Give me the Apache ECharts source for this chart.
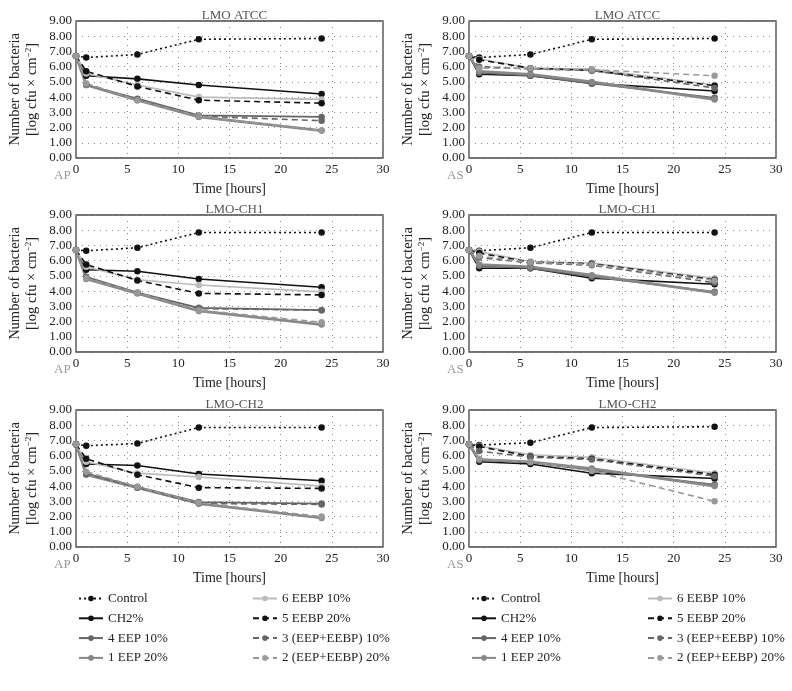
<!DOCTYPE html>
<html><head><meta charset="utf-8">
<script src="https://cdn.jsdelivr.net/npm/echarts@6/dist/echarts.min.js"></script>
<style>html,body{margin:0;padding:0;background:#fff}#c{width:792px;height:691px}</style>
</head><body><div id="c"></div>
<script>
const hours = [0, 1, 6, 12, 24];
const seriesNames = ['Control', 'CH2%', '4 EEP 10%', '1 EEP 20%', '6 EEBP 10%', '5 EEBP 20%', '3 (EEP+EEBP) 10%', '2 (EEP+EEBP) 20%'];
const panelTitles = ['LMO ATCC', 'LMO ATCC', 'LMO-CH1', 'LMO-CH1', 'LMO-CH2', 'LMO-CH2'];
const panelTags = ['AP', 'AS', 'AP', 'AS', 'AP', 'AS'];
const yTicks = [0, 1, 2, 3, 4, 5, 6, 7, 8, 9];
const xTicks = [0, 5, 10, 15, 20, 25, 30];

// rows follow seriesNames order
const AP_ATCC = [
  [6.7, 6.6, 6.8, 7.8, 7.85],
  [6.7, 5.4, 5.2, 4.8, 4.2],
  [6.7, 4.8, 3.9, 2.8, 2.7],
  [6.7, 4.8, 3.8, 2.7, 1.8],
  [6.7, 5.55, 4.8, 4.0, 3.85],
  [6.7, 5.7, 4.7, 3.8, 3.6],
  [6.7, 4.85, 3.85, 2.75, 2.45],
  [6.7, 4.9, 3.8, 2.75, 1.8]
];
const AS_ATCC = [
  [6.7, 6.6, 6.8, 7.8, 7.85],
  [6.7, 5.5, 5.4, 4.9, 4.4],
  [6.7, 5.6, 5.4, 4.9, 3.95],
  [6.7, 5.7, 5.5, 5.0, 3.85],
  [6.7, 6.5, 5.9, 5.85, 4.8],
  [6.7, 6.45, 5.9, 5.75, 4.75],
  [6.7, 6.0, 5.85, 5.75, 4.6],
  [6.7, 5.9, 5.9, 5.8, 5.4]
];
const AP_CH1 = [
  [6.7, 6.65, 6.85, 7.85, 7.85],
  [6.7, 5.4, 5.3, 4.8, 4.25],
  [6.7, 4.95, 3.9, 2.9, 2.75],
  [6.7, 4.8, 3.85, 2.7, 1.8],
  [6.7, 5.6, 4.75, 4.4, 3.95],
  [6.7, 5.75, 4.7, 3.85, 3.75],
  [6.7, 4.9, 3.9, 2.85, 2.75],
  [6.7, 4.85, 3.9, 2.75, 1.95]
];
const AS_CH1 = [
  [6.7, 6.65, 6.85, 7.85, 7.85],
  [6.7, 5.5, 5.5, 4.85, 4.45],
  [6.7, 5.65, 5.5, 4.95, 3.95],
  [6.7, 5.75, 5.6, 5.05, 3.9],
  [6.7, 6.6, 5.95, 5.85, 4.85],
  [6.7, 6.5, 5.9, 5.8, 4.75],
  [6.7, 6.2, 5.85, 5.7, 4.55],
  [6.7, 6.3, 5.9, 5.75, 4.7]
];
const AP_CH2 = [
  [6.75, 6.65, 6.8, 7.85, 7.85],
  [6.75, 5.45, 5.35, 4.8, 4.35],
  [6.75, 4.85, 3.95, 2.95, 2.85],
  [6.75, 4.75, 3.9, 2.85, 1.9],
  [6.75, 5.6, 4.85, 4.6, 4.0],
  [6.75, 5.8, 4.75, 3.9, 3.85],
  [6.75, 4.8, 3.9, 2.85, 2.8],
  [6.75, 4.95, 3.95, 2.9, 2.0]
];
const AS_CH2 = [
  [6.75, 6.7, 6.85, 7.85, 7.9],
  [6.75, 5.6, 5.45, 4.85, 4.5],
  [6.75, 5.7, 5.55, 5.05, 4.1],
  [6.75, 5.75, 5.6, 5.15, 4.0],
  [6.75, 6.65, 6.05, 5.9, 4.85],
  [6.75, 6.6, 5.95, 5.8, 4.75],
  [6.75, 6.3, 5.9, 5.75, 4.65],
  [6.75, 5.8, 5.6, 5.0, 3.0]
];
const panels = [AP_ATCC, AS_ATCC, AP_CH1, AS_CH1, AP_CH2, AS_CH2];

const styles = [
  {color: '#111', type: [2, 3], width: 1.6},
  {color: '#111', type: 'solid', width: 1.6},
  {color: '#666', type: 'solid', width: 1.6},
  {color: '#888', type: 'solid', width: 2.6},
  {color: '#bbb', type: 'solid', width: 1.6},
  {color: '#111', type: [6, 4], width: 1.6},
  {color: '#666', type: [6, 4], width: 1.6},
  {color: '#999', type: [6, 4], width: 1.6}
];

const FONT = 'Liberation Serif';
const gridLefts = [76, 469];
const gridTops = [21, 215, 410];
const GW = 307, GH = 137;

const grids = [], xAxes = [], yAxes = [], series = [], titles = [], graphics = [];
panels.forEach((p, i) => {
  const col = i % 2, row = Math.floor(i / 2);
  const left = gridLefts[col], top = gridTops[row];
  grids.push({left: left, top: top, width: GW, height: GH, show: true, borderColor: '#444', borderWidth: 1.3, backgroundColor: 'transparent'});
  xAxes.push({
    type: 'value', gridIndex: i, min: xTicks[0], max: xTicks[xTicks.length - 1], interval: 5,
    name: 'Time [hours]', nameLocation: 'middle', nameGap: 24,
    nameTextStyle: {fontFamily: FONT, fontSize: 14, color: '#222'},
    axisLine: {show: false}, axisTick: {show: false},
    axisLabel: {fontFamily: FONT, fontSize: 13, color: '#222', margin: 5},
    splitLine: {show: true, lineStyle: {type: [1, 5], color: '#888', width: 1}}
  });
  yAxes.push({
    type: 'value', gridIndex: i, min: yTicks[0], max: yTicks[yTicks.length - 1], interval: 1,
    name: 'Number of bacteria\n[log cfu × cm{sup|−2}]', nameLocation: 'middle', nameGap: 35, nameRotate: 90,
    nameTextStyle: {fontFamily: FONT, fontSize: 14.5, color: '#222', lineHeight: 17,
      rich: {sup: {fontFamily: FONT, fontSize: 9, color: '#222', verticalAlign: 'top', lineHeight: 17, padding: [0, 0, 6, 0]}}},
    axisLine: {show: false}, axisTick: {show: false},
    axisLabel: {fontFamily: FONT, fontSize: 13, color: '#222', margin: 4, formatter: v => v.toFixed(2)},
    splitLine: {show: true, lineStyle: {type: [1, 5], color: '#888', width: 1}}
  });
  titles.push({text: panelTitles[i], left: left + GW / 2, top: top - 17, textAlign: 'center',
    textStyle: {fontFamily: FONT, fontSize: 13, fontWeight: 'normal', color: '#555'}});
  graphics.push({type: 'text', left: left - 22, top: top + GH + 11,
    style: {text: panelTags[i], fontFamily: FONT, fontSize: 13, fill: '#999'}});
  p.forEach((vals, k) => {
    series.push({
      name: seriesNames[k], type: 'line', xAxisIndex: i, yAxisIndex: i,
      data: hours.map((h, j) => [h, vals[j]]),
      symbol: 'circle', symbolSize: 6.5, showSymbol: true,
      lineStyle: {color: styles[k].color, type: styles[k].type, width: styles[k].width},
      itemStyle: {color: styles[k].color},
      emphasis: {disabled: true}, animation: false
    });
  });
});

const legends = [];
const legendCols = [[78, 252], [471, 647]];
legendCols.forEach(cols => {
  [seriesNames.slice(0, 4), seriesNames.slice(4)].forEach((names, c) => {
    legends.push({
      data: names, orient: 'vertical', left: cols[c], top: 591, padding: 0, itemGap: 4.8,
      itemWidth: 24, itemHeight: 7,
      textStyle: {fontFamily: FONT, fontSize: 13, color: '#222', lineHeight: 15}
    });
  });
});

const chart = echarts.init(document.getElementById('c'), null, {renderer: 'canvas'});
chart.setOption({
  animation: false,
  title: titles, grid: grids, xAxis: xAxes, yAxis: yAxes,
  series: series, legend: legends, graphic: graphics
});
</script></body></html>
